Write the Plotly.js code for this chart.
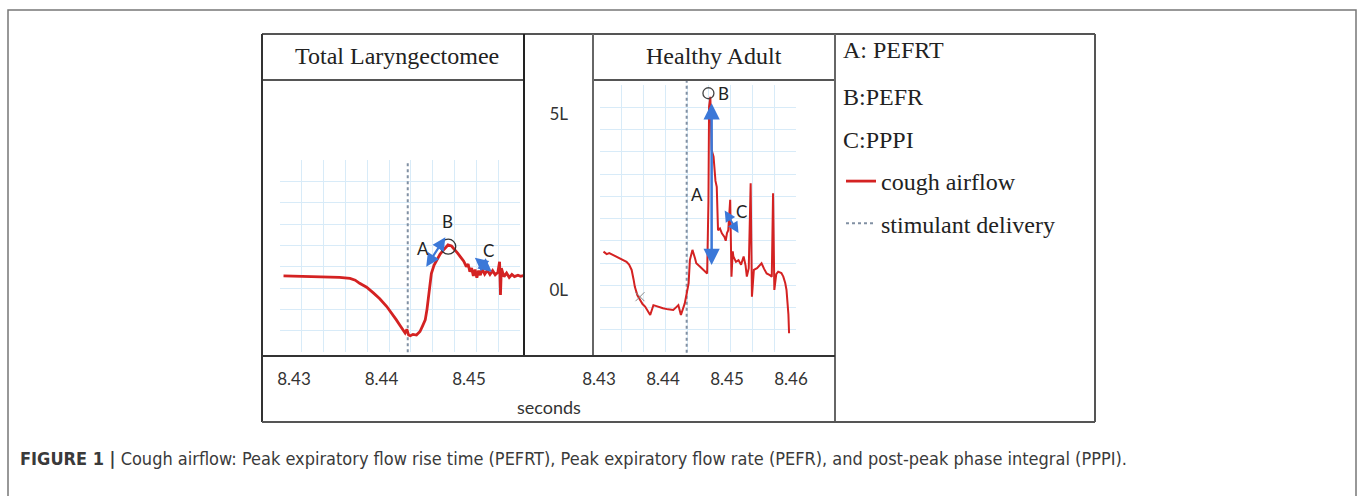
<!DOCTYPE html>
<html>
<head>
<meta charset="utf-8">
<script src="https://cdn.plot.ly/plotly-3.0.1.min.js"></script>
<style>html,body{margin:0;padding:0;background:#fff;}#chart{width:1357px;height:496px;}</style>
</head>
<body>
<div id="chart"></div>
<script>
// ---------- DATA ----------
const panelTitles = ["Total Laryngectomee", "Healthy Adult"];
const legendNotes = ["A: PEFRT", "B:PEFR", "C:PPPI"];
const seriesNames = ["cough airflow", "stimulant delivery"];

// Total laryngectomee: time (s) and airflow (L)
const larTime = [8.4288,8.4310,8.4337,8.4352,8.4364,8.4370,8.4375,8.4383,8.4391,8.4398,8.4406,8.4412,8.4417,8.4421,8.4425,8.4427,8.4429,8.4431,8.4433,8.4436,8.4440,8.4444,8.4447,8.4450,8.4452,8.4454,8.4456,8.4457,8.4460,8.4463,8.4467,8.4471,8.4476,8.4480,8.4484,8.4487,8.4490,8.4494,8.4497,8.4499,8.4501,8.4503,8.4505,8.4507,8.4509,8.4511,8.4513,8.4515,8.4518,8.4521,8.4524,8.4527,8.4530,8.4533,8.4535,8.4536,8.4537,8.4540,8.4543,8.4546,8.4549,8.4552,8.4556,8.4559,8.4562];
const larFlow = [0.40,0.39,0.36,0.36,0.33,0.28,0.19,0.08,-0.09,-0.25,-0.47,-0.66,-0.85,-1.00,-1.14,-1.22,-1.12,-1.28,-1.30,-1.26,-1.28,-1.18,-1.02,-0.85,-0.55,-0.19,0.15,0.47,0.70,0.85,1.02,1.14,1.28,1.25,1.15,1.05,0.95,0.82,0.66,0.74,0.52,0.62,0.40,0.58,0.35,0.55,0.42,0.60,0.45,0.56,0.44,0.55,0.43,0.50,0.80,-0.14,0.62,0.38,0.48,0.36,0.44,0.38,0.42,0.39,0.41];

// Healthy adult: time (s) and airflow (L)
const adultTime = [8.4307,8.4312,8.4316,8.4322,8.4328,8.4334,8.4343,8.4347,8.4351,8.4354,8.4356,8.4360,8.4364,8.4368,8.4372,8.4376,8.4380,8.4385,8.4392,8.4400,8.4408,8.4416,8.4420,8.4424,8.4428,8.4432,8.4434,8.4437,8.4440,8.4442,8.4446,8.4450,8.4452,8.4458,8.4466,8.4469,8.4471,8.4472,8.4474,8.4476,8.4479,8.4482,8.4484,8.4485,8.4486,8.4489,8.4492,8.4496,8.4498,8.4500,8.4502,8.4505,8.4507,8.4509,8.4510,8.4514,8.4518,8.4522,8.4526,8.4529,8.4531,8.4534,8.4537,8.4539,8.4542,8.4547,8.4554,8.4558,8.4562,8.4567,8.4570,8.4572,8.4574,8.4577,8.4580,8.4585,8.4588,8.4591,8.4593,8.4596,8.4597];
const adultFlow = [1.09,1.02,1.05,0.99,0.93,0.88,0.80,0.72,0.57,0.30,0.09,-0.15,-0.28,-0.40,-0.47,-0.60,-0.71,-0.43,-0.48,-0.52,-0.55,-0.57,-0.50,-0.43,-0.71,-0.50,-0.38,-0.10,0.19,0.85,1.14,0.90,0.76,0.66,0.52,0.47,2.50,5.21,5.49,3.98,3.79,3.10,2.93,2.20,1.70,1.75,1.61,1.51,1.40,1.62,1.70,2.56,0.38,1.10,0.95,0.80,0.85,0.72,0.95,0.70,0.38,0.62,3.03,-0.19,0.57,0.62,0.76,0.60,0.47,0.42,0.38,2.75,0.00,0.45,0.52,0.48,0.38,0.20,0.00,-0.70,-1.23];

// stimulant delivery markers (time, flow extent)
const larStimTime = [8.4430, 8.4430];
const larStimFlow = [3.60, -1.875];
const adultStimTime = [8.4437, 8.4437];
const adultStimFlow = [5.97, -1.875];

// annotation points: [time, flow]
const larArrowA = [[8.4450, 0.62], [8.4473, 1.50]];
const larArrowC = [[8.4505, 0.95], [8.4526, 0.52]];
const larPeakB = [8.44763, 1.23];
const larLabels = [["A", 8.4448, 1.18], ["B", 8.4476, 1.94], ["C", 8.4522, 1.12]];
const adultArrowA = [[8.4476, 5.35], [8.4476, 0.71]];
const adultArrowC = [[8.4495, 2.30], [8.4518, 1.62]];
const adultPeakB = [8.4471, 5.59];
const adultLabels = [["A", 8.4453, 2.70], ["B", 8.4494, 5.59], ["C", 8.4522, 2.22]];
const adultMark = [8.4364, -0.19];

const larTicks = [8.43, 8.44, 8.45];
const adultTicks = [8.43, 8.44, 8.45, 8.46];
const flowTicks = [0, 5];
const flowTickText = ["0L", "5L"];
const xTitle = "seconds";
const caption = "Cough airflow: Peak expiratory flow rise time (PEFRT), Peak expiratory flow rate (PEFR), and post-peak phase integral (PPPI).";

// ---------- LAYOUT HELPERS ----------
const W = 1357, H = 496;
const px = x => x / W;
const py = y => 1 - y / H;
const RED = '#d42222', BLUE = '#3b78d8', STIM = '#8190a3', LINE = '#555';
const sans = 'Lato, "Open Sans", sans-serif';
const serif = '"Liberation Serif", "DejaVu Serif", serif';

const traces = [
  {x: [0], y: [0], xaxis: 'x', yaxis: 'y', mode: 'markers', marker: {opacity: 0}, showlegend: false, hoverinfo: 'skip'},
  {x: [0], y: [0], xaxis: 'x2', yaxis: 'y2', mode: 'markers', marker: {opacity: 0}, showlegend: false, hoverinfo: 'skip'},
  {x: larStimTime, y: larStimFlow, xaxis: 'x3', yaxis: 'y3', mode: 'lines', name: seriesNames[1],
   line: {color: STIM, width: 2, dash: 'dot'}, showlegend: false},
  {x: larTime, y: larFlow, xaxis: 'x3', yaxis: 'y3', mode: 'lines', name: seriesNames[0],
   line: {color: RED, width: 2.8}, showlegend: true, legendgroup: 'a', legendrank: 1},
  {x: [larPeakB[0]], y: [larPeakB[1]], xaxis: 'x3', yaxis: 'y3', mode: 'markers',
   marker: {symbol: 'circle-open', size: 15, color: '#333', line: {width: 1.3, color: '#333'}}, showlegend: false},
  {x: adultStimTime, y: adultStimFlow, xaxis: 'x4', yaxis: 'y4', mode: 'lines', name: seriesNames[1],
   line: {color: STIM, width: 2, dash: 'dot'}, showlegend: true, legendgroup: 'b', legendrank: 2},
  {x: adultTime, y: adultFlow, xaxis: 'x4', yaxis: 'y4', mode: 'lines', name: seriesNames[0],
   line: {color: RED, width: 2}, showlegend: false},
  {x: [adultPeakB[0]], y: [adultPeakB[1]], xaxis: 'x4', yaxis: 'y4', mode: 'markers',
   marker: {symbol: 'circle-open', size: 11, color: '#444', line: {width: 1.3, color: '#444'}}, showlegend: false},
  {x: [adultMark[0]], y: [adultMark[1]], xaxis: 'x4', yaxis: 'y4', mode: 'markers',
   marker: {symbol: 'x-thin', size: 9, line: {width: 1, color: '#888'}}, showlegend: false}
];

const gridAxis = (dom, rng) => ({domain: dom, range: rng, dtick: 1, showgrid: true, gridcolor: '#d8ebf8', gridwidth: 1,
  zeroline: false, showticklabels: false, ticks: '', showline: false, fixedrange: true});

function arrow(pair, xr, yr, size, w) {
  return {x: pair[1][0], y: pair[1][1], ax: pair[0][0], ay: pair[0][1], xref: xr, yref: yr, axref: xr, ayref: yr,
    text: '', showarrow: true, arrowhead: 2, arrowside: 'end+start', arrowsize: size, arrowwidth: w, arrowcolor: BLUE};
}
function label(l, xr, yr) {
  return {x: l[1], y: l[2], xref: xr, yref: yr, text: l[0], showarrow: false, font: {family: sans, size: 17, color: '#222'}};
}
function paperText(t, x, y, xa, font) {
  return {x: px(x), y: py(y), xref: 'paper', yref: 'paper', xanchor: xa, yanchor: 'middle', text: t,
    showarrow: false, font: font};
}
const serifFont = {family: serif, size: 24, color: '#222'};

const annotations = [
  arrow(larArrowA, 'x3', 'y3', 1.2, 2.2), arrow(larArrowC, 'x3', 'y3', 1.2, 2.2),
  arrow(adultArrowA, 'x4', 'y4', 1.3, 2.5), arrow(adultArrowC, 'x4', 'y4', 1.1, 2),
  ...larLabels.map(l => label(l, 'x3', 'y3')),
  ...adultLabels.map(l => label(l, 'x4', 'y4')),
  paperText(panelTitles[0], 397, 56, 'center', serifFont),
  paperText(panelTitles[1], 714, 56, 'center', serifFont),
  ...legendNotes.map((t, i) => paperText(t, 841, [50, 97, 140][i], 'left', serifFont)),
  paperText(xTitle, 549, 407, 'center', {family: sans, size: 18, color: '#333'}),
  paperText('<b>FIGURE 1 |</b> ' + caption, 18, 458, 'left',
    {family: '"Liberation Sans Narrow", "DejaVu Sans Condensed", sans-serif', size: 18, color: '#3a3a3a'})
];

const lineShape = (x0, y0, x1, y1, c, w) => ({type: 'line', xref: 'paper', yref: 'paper',
  x0: px(x0), y0: py(y0), x1: px(x1), y1: py(y1), line: {color: c || LINE, width: w || 2}, layer: 'above'});

const shapes = [
  {type: 'rect', xref: 'paper', yref: 'paper', x0: px(8), y0: py(10), x1: px(1356), y1: py(520),
   line: {color: '#777', width: 1.5}, layer: 'below'},
  lineShape(262, 34, 1095, 34),
  lineShape(262, 80, 524, 80),
  lineShape(593, 80, 835, 80),
  lineShape(262, 34, 262, 422, '#333'),
  lineShape(524, 34, 524, 356, '#222'),
  lineShape(593, 34, 593, 356, '#666'),
  lineShape(835, 34, 835, 422, '#666'),
  lineShape(1095, 34, 1095, 422, '#555'),
  lineShape(262, 356, 835, 356, '#333'),
  lineShape(262, 422, 1095, 422, '#555')
];

const layout = {
  width: W, height: H, margin: {l: 0, r: 0, t: 0, b: 0},
  paper_bgcolor: '#fff', plot_bgcolor: 'rgba(0,0,0,0)',
  showlegend: true,
  legend: {x: px(841), y: py(159), xanchor: 'left', yanchor: 'top', bgcolor: 'rgba(0,0,0,0)',
    font: {family: serif, size: 24, color: '#222'}, traceorder: 'grouped', tracegroupgap: 8},
  xaxis: Object.assign(gridAxis([px(280), px(520)], [0, 11]), {anchor: 'y'}),
  yaxis: Object.assign(gridAxis([py(352), py(160)], [0, 9]), {anchor: 'x'}),
  xaxis2: Object.assign(gridAxis([px(600), px(796)], [0, 9]), {anchor: 'y2'}),
  yaxis2: Object.assign(gridAxis([py(352), py(85)], [0, 12]), {anchor: 'x2'}),
  xaxis3: {domain: [px(262), px(524)], range: [8.42634, 8.45629], anchor: 'y3', tickvals: larTicks,
    ticktext: larTicks.map(v => v.toFixed(2)), ticks: '', showgrid: false, zeroline: false, showline: false,
    ticklabelstandoff: 11, tickfont: {family: sans, size: 17, color: '#333'}, fixedrange: true},
  yaxis3: {domain: [py(356), py(80)], range: [-1.875, 5.966], anchor: 'x3', showticklabels: false, ticks: '',
    showgrid: false, zeroline: false, showline: false, fixedrange: true},
  xaxis4: {domain: [px(593), px(835)], range: [8.42906, 8.46688], anchor: 'y4', tickvals: adultTicks,
    ticktext: adultTicks.map(v => v.toFixed(2)), ticks: '', showgrid: false, zeroline: false, showline: false,
    ticklabelstandoff: 11, tickfont: {family: sans, size: 17, color: '#333'}, fixedrange: true},
  yaxis4: {domain: [py(356), py(80)], range: [-1.875, 5.966], anchor: 'x4', side: 'left', tickvals: flowTicks,
    ticktext: flowTickText, ticks: '', showgrid: false, zeroline: false, showline: false,
    ticklabelstandoff: 24, tickfont: {family: sans, size: 17, color: '#333'}, fixedrange: true},
  annotations: annotations,
  shapes: shapes
};

Plotly.newPlot('chart', traces, layout, {displayModeBar: false, staticPlot: true});
</script>
</body>
</html>
